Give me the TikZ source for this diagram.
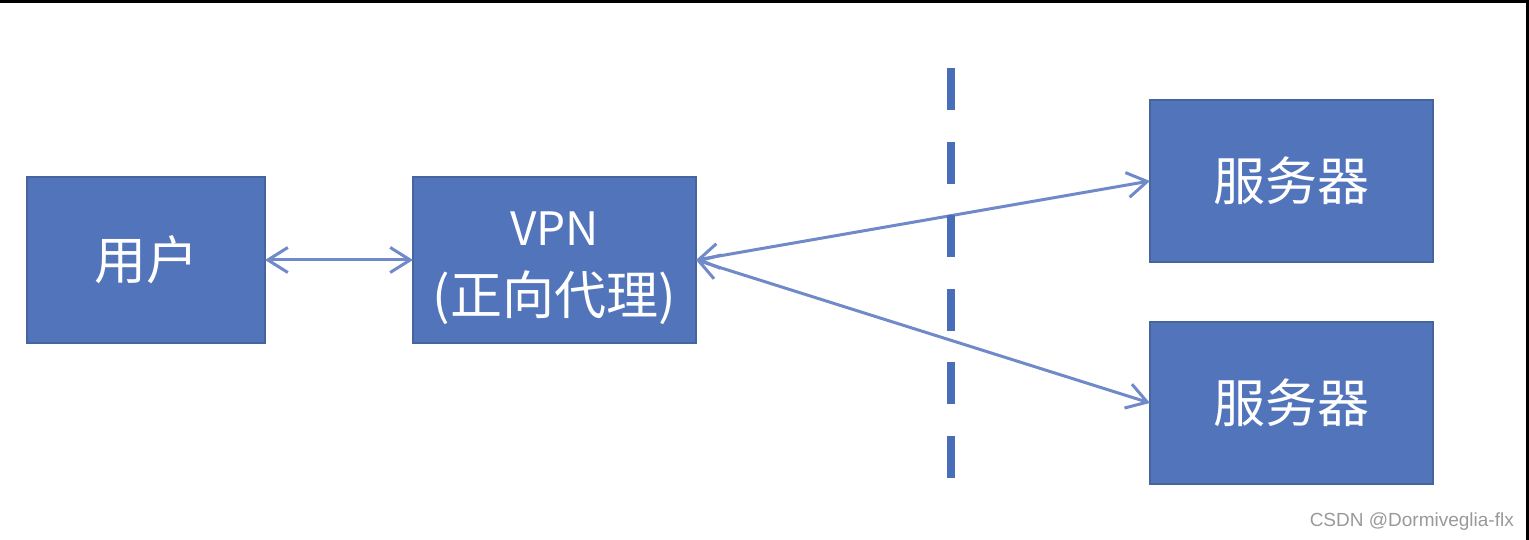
\documentclass[tikz,border=0pt]{standalone}
\usepackage{fontspec}
\newfontfamily\cjk{Noto Sans CJK SC}
\newfontfamily\creditfont{Liberation Sans}
\usetikzlibrary{arrows.meta, positioning}

\definecolor{boxblue}{HTML}{5274BA}
\definecolor{boxedge}{HTML}{46659F}
\definecolor{linkblue}{HTML}{7089C8}
\definecolor{cutblue}{HTML}{4A6DBA}

\begin{document}
\begin{tikzpicture}[
    x=1pt, y=1pt,
    box/.style={
        draw=boxedge,
        line width=1.5pt,
        fill=boxblue,
        text=white,
        font=\cjk\fontsize{52}{69}\selectfont,
        minimum width=283pt,
        minimum height=166pt,
        inner sep=0pt,
        outer sep=0pt,
        align=center
    },
    link/.style={
        {Straight Barb[length=20pt,width=25pt]}-{Straight Barb[length=20pt,width=25pt]},
        line width=3pt,
        draw=linkblue
    },
    divider/.style={
        draw=cutblue,
        line width=8pt,
        dash pattern=on 42pt off 31.6pt
    },
    credit/.style={
        text=gray!80,
        font=\creditfont\fontsize{19}{19}\selectfont,
        inner sep=0pt
    },
    frame/.style={
        draw=black,
        line width=3pt
    }
]

\useasboundingbox (0,0) rectangle (1529,540);

% --- BOXES ------------------------------------------------------

\node[box, minimum width=238pt] (user) at (146,280) {用户};
\node[box, right=148pt of user] (vpn)
    {\rule{0pt}{50pt}{\fontsize{46}{69}\selectfont VPN}\\(正向代理)};
\node[box, minimum height=162pt] (srvA) at (1291.5,359) {服务器};
\node[box, minimum height=162pt, below=60pt of srvA] (srvB) {服务器};

% --- LINKS ------------------------------------------------------

\draw[link] (user.east) -- (vpn.west);
\draw[link] (vpn.east) -- (srvA.west);
\draw[link] (vpn.east) -- (srvB.west);

% --- DIVIDER ----------------------------------------------------

\coordinate (cutTop) at (951,472);
\coordinate (cutBot) at (951,62);
\draw[divider] (cutTop) -- (cutBot);

% --- CREDIT AND FRAME -------------------------------------------

\node[credit, anchor=base east] (credit) at (1514,13) {CSDN @Dormiveglia-flx};
\draw[frame] (0,538.5) -- (1527.5,538.5) -- (1527.5,0);

\end{tikzpicture}
\end{document}
